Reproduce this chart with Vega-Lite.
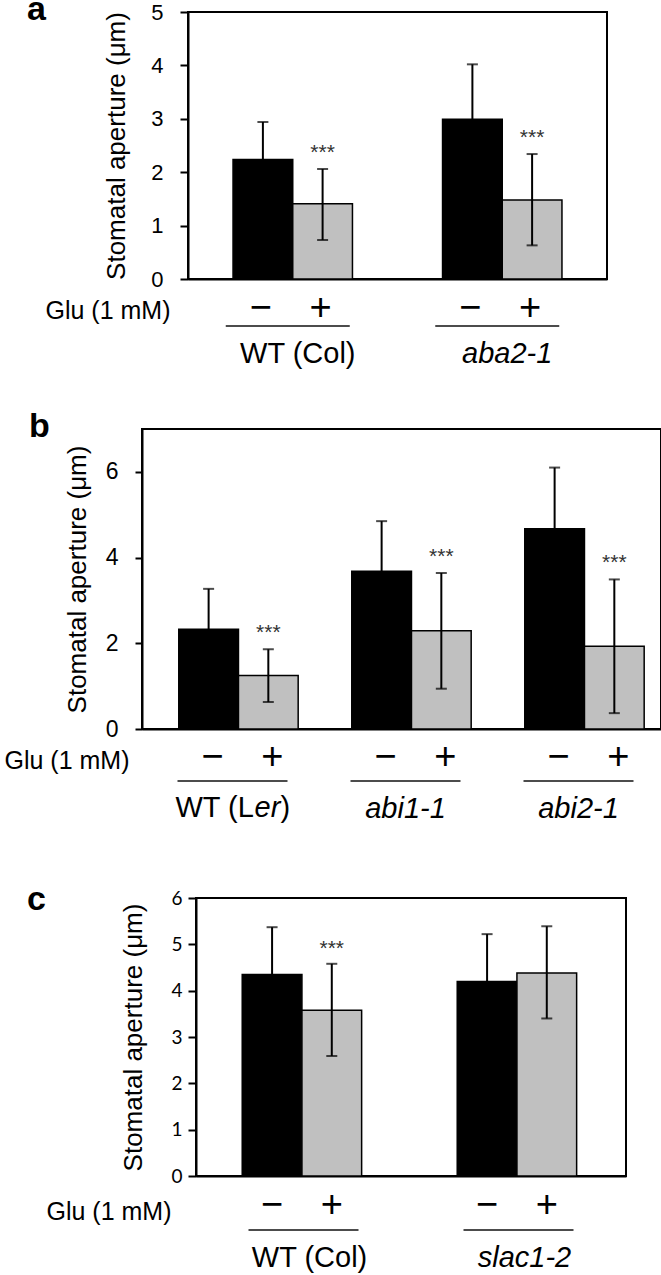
{
  "$schema": "https://vega.github.io/schema/vega-lite/v6.json",
  "background": "white",
  "padding": {"left": 0, "top": -8, "right": 0, "bottom": 0},
  "config": {
    "font": "Liberation Sans",
    "view": {"stroke": "black", "strokeWidth": 2},
    "axis": {"grid": false, "domainColor": "black", "domainWidth": 2, "tickColor": "black", "tickWidth": 2, "labelColor": "black", "titleColor": "black", "titleFontWeight": "normal"},
    "title": {"color": "black"},
    "concat": {"spacing": 0}
  },
  "spacing": 0,
  "vconcat": [
    {
      "spacing": 0,
      "hconcat": [
        {"width": 26, "height": 1, "data": {"values": []}, "mark": "point", "view": {"stroke": null}},
        {
          "width": 419, "height": 267,
          "title": {"text": "a", "anchor": "start", "frame": "group", "dx": -161, "dy": 34, "offset": -19, "baseline": "alphabetic", "fontSize": 34, "fontWeight": "bold"},
          "data": {"values": [
            {"genotype": "WT (Col)", "glu": "−", "mean": 2.24, "lo": 1.54, "hi": 2.94, "star": ""},
            {"genotype": "WT (Col)", "glu": "+", "mean": 1.41, "lo": 0.73, "hi": 2.06, "star": "***"},
            {"genotype": "aba2-1", "glu": "−", "mean": 2.99, "lo": 1.96, "hi": 4.02, "star": ""},
            {"genotype": "aba2-1", "glu": "+", "mean": 1.48, "lo": 0.63, "hi": 2.34, "star": "***"}
          ]},
          "encoding": {
            "x": {"field": "genotype", "type": "nominal", "sort": null, "scale": {"paddingInner": 0.43, "paddingOuter": 0.215},
              "axis": {"title": "Glu (1 mM)", "titleX": -18, "titleY": 31, "titleAlign": "right", "titleBaseline": "middle", "titleAngle": 0, "titleFontSize": 25,
                "labelFontSize": 29, "labelPadding": 74, "labelBaseline": "middle", "labelAngle": 0, "labelOffset": 5, "ticks": false, "tickSize": 0,
                "labelFontStyle": {"condition": {"test": "indexof(datum.value, 'WT') === 0", "value": "normal"}, "value": "italic"}}}
          },
          "layer": [
            {"mark": {"type": "bar", "stroke": "black", "strokeWidth": 1.5},
             "encoding": {
               "xOffset": {"field": "glu", "type": "nominal", "sort": null, "scale": {"paddingInner": 0, "paddingOuter": 0}},
               "y": {"field": "mean", "type": "quantitative", "scale": {"domain": [0, 5], "nice": false},
                 "axis": {"title": "Stomatal aperture (μm)", "titleFontSize": 26, "titleX": -72, "titleBaseline": "middle", "values": [0, 1, 2, 3, 4, 5], "tickSize": 8, "labelPadding": 17, "labelFontSize": 22}},
               "color": {"field": "glu", "type": "nominal", "scale": {"domain": ["−", "+"], "range": ["black", "#c0c0c0"]}, "legend": null}}},
            {"mark": {"type": "rule", "strokeWidth": 2, "color": "black"},
             "encoding": {"xOffset": {"field": "glu", "type": "nominal", "sort": null}, "y": {"field": "lo", "type": "quantitative"}, "y2": {"field": "hi"}}},
            {"mark": {"type": "tick", "orient": "horizontal", "size": 11, "thickness": 2, "color": "black"},
             "encoding": {"xOffset": {"field": "glu", "type": "nominal", "sort": null}, "y": {"field": "hi", "type": "quantitative"}}},
            {"mark": {"type": "tick", "orient": "horizontal", "size": 11, "thickness": 2, "color": "black"},
             "encoding": {"xOffset": {"field": "glu", "type": "nominal", "sort": null}, "y": {"field": "lo", "type": "quantitative"}}},
            {"mark": {"type": "text", "fontSize": 21, "color": "#333333", "baseline": "alphabetic", "dy": -10},
             "encoding": {"xOffset": {"field": "glu", "type": "nominal", "sort": null}, "y": {"field": "hi", "type": "quantitative"}, "text": {"field": "star"}}},
            {"mark": {"type": "text", "fontSize": 38, "color": "black", "baseline": "middle", "dy": 30, "dx": -2},
             "encoding": {"xOffset": {"field": "glu", "type": "nominal", "sort": null}, "y": {"datum": 0}, "text": {"field": "glu"}}},
            {"transform": [{"filter": "datum.glu === '−'"}],
             "mark": {"type": "tick", "orient": "horizontal", "size": 124, "thickness": 2, "color": "black", "yOffset": 47, "xOffset": -5},
             "encoding": {"y": {"datum": 0}}}
          ]
        }
      ]
    },
    {"width": 1, "height": 40, "data": {"values": []}, "mark": "point", "view": {"stroke": null}},
    {
      "spacing": 0,
      "hconcat": [
        {"width": 3, "height": 1, "data": {"values": []}, "mark": "point", "view": {"stroke": null}},
        {
          "width": 519, "height": 300,
          "title": {"text": "b", "anchor": "start", "frame": "group", "dx": -113, "dy": 31, "offset": -11, "baseline": "alphabetic", "fontSize": 34, "fontWeight": "bold"},
          "data": {"values": [
            {"genotype": "WT (Ler)", "glu": "−", "mean": 2.33, "lo": 1.39, "hi": 3.27, "star": ""},
            {"genotype": "WT (Ler)", "glu": "+", "mean": 1.25, "lo": 0.63, "hi": 1.86, "star": "***"},
            {"genotype": "abi1-1", "glu": "−", "mean": 3.68, "lo": 2.51, "hi": 4.85, "star": ""},
            {"genotype": "abi1-1", "glu": "+", "mean": 2.29, "lo": 0.94, "hi": 3.64, "star": "***"},
            {"genotype": "abi2-1", "glu": "−", "mean": 4.67, "lo": 3.24, "hi": 6.1, "star": ""},
            {"genotype": "abi2-1", "glu": "+", "mean": 1.93, "lo": 0.37, "hi": 3.49, "star": "***"}
          ]},
          "encoding": {
            "x": {"field": "genotype", "type": "nominal", "sort": null, "scale": {"paddingInner": 0.425, "paddingOuter": 0.2125},
              "axis": {"title": "Glu (1 mM)", "titleX": -13, "titleY": 31, "titleAlign": "right", "titleBaseline": "middle", "titleAngle": 0, "titleFontSize": 25,
                "labelFontSize": 29, "labelPadding": 79, "labelBaseline": "middle", "labelAngle": 0, "labelOffset": 4, "ticks": false, "tickSize": 0,
                "labelExpr": "datum.value === 'WT (Ler)' ? '' : datum.value",
                "labelFontStyle": {"condition": {"test": "indexof(datum.value, 'WT') === 0", "value": "normal"}, "value": "italic"}}}
          },
          "layer": [
            {"mark": {"type": "bar", "stroke": "black", "strokeWidth": 1.5},
             "encoding": {
               "xOffset": {"field": "glu", "type": "nominal", "sort": null, "scale": {"paddingInner": 0, "paddingOuter": 0}},
               "y": {"field": "mean", "type": "quantitative", "scale": {"domain": [0, 7], "nice": false},
                 "axis": {"title": "Stomatal aperture (μm)", "titleFontSize": 26, "titleX": -65, "titleBaseline": "middle", "values": [0, 2, 4, 6], "tickSize": 7, "labelPadding": 17, "labelFontSize": 23}},
               "color": {"field": "glu", "type": "nominal", "scale": {"domain": ["−", "+"], "range": ["black", "#c0c0c0"]}, "legend": null}}},
            {"mark": {"type": "rule", "strokeWidth": 2, "color": "black"},
             "encoding": {"xOffset": {"field": "glu", "type": "nominal", "sort": null}, "y": {"field": "lo", "type": "quantitative"}, "y2": {"field": "hi"}}},
            {"mark": {"type": "tick", "orient": "horizontal", "size": 11, "thickness": 2, "color": "black"},
             "encoding": {"xOffset": {"field": "glu", "type": "nominal", "sort": null}, "y": {"field": "hi", "type": "quantitative"}}},
            {"mark": {"type": "tick", "orient": "horizontal", "size": 11, "thickness": 2, "color": "black"},
             "encoding": {"xOffset": {"field": "glu", "type": "nominal", "sort": null}, "y": {"field": "lo", "type": "quantitative"}}},
            {"mark": {"type": "text", "fontSize": 21, "color": "#333333", "baseline": "alphabetic", "dy": -10},
             "encoding": {"xOffset": {"field": "glu", "type": "nominal", "sort": null}, "y": {"field": "hi", "type": "quantitative"}, "text": {"field": "star"}}},
            {"mark": {"type": "text", "fontSize": 38, "color": "black", "baseline": "middle", "dy": 29, "dx": 4},
             "encoding": {"xOffset": {"field": "glu", "type": "nominal", "sort": null}, "y": {"datum": 0}, "text": {"field": "glu"}}},
            {"transform": [{"filter": "datum.glu === '−'"}],
             "mark": {"type": "tick", "orient": "horizontal", "size": 110, "thickness": 2, "color": "black", "yOffset": 52, "xOffset": 4},
             "encoding": {"y": {"datum": 0}}},
            {"transform": [{"filter": "datum.genotype === 'WT (Ler)' && datum.glu === '−'"}],
             "mark": {"type": "text", "fontSize": 29, "color": "black", "baseline": "middle", "align": "left", "dy": 79, "dx": -53},
             "encoding": {"y": {"datum": 0}, "text": {"value": "WT (L"}}},
            {"transform": [{"filter": "datum.genotype === 'WT (Ler)' && datum.glu === '−'"}],
             "mark": {"type": "text", "fontSize": 29, "color": "black", "baseline": "middle", "align": "left", "fontStyle": "italic", "dy": 79, "dx": 26},
             "encoding": {"y": {"datum": 0}, "text": {"value": "er"}}},
            {"transform": [{"filter": "datum.genotype === 'WT (Ler)' && datum.glu === '−'"}],
             "mark": {"type": "text", "fontSize": 29, "color": "black", "baseline": "middle", "align": "left", "dy": 79, "dx": 52},
             "encoding": {"y": {"datum": 0}, "text": {"value": ")"}}}
          ]
        }
      ]
    },
    {"width": 1, "height": 58, "data": {"values": []}, "mark": "point", "view": {"stroke": null}},
    {
      "spacing": 0,
      "hconcat": [
        {"width": 26, "height": 1, "data": {"values": []}, "mark": "point", "view": {"stroke": null}},
        {
          "width": 430, "height": 278,
          "title": {"text": "c", "anchor": "start", "frame": "group", "dx": -169, "dy": 38, "offset": -17, "baseline": "alphabetic", "fontSize": 34, "fontWeight": "bold"},
          "data": {"values": [
            {"genotype": "WT (Col)", "glu": "−", "mean": 4.35, "lo": 3.33, "hi": 5.37, "star": ""},
            {"genotype": "WT (Col)", "glu": "+", "mean": 3.58, "lo": 2.59, "hi": 4.58, "star": "***"},
            {"genotype": "slac1-2", "glu": "−", "mean": 4.2, "lo": 3.18, "hi": 5.22, "star": ""},
            {"genotype": "slac1-2", "glu": "+", "mean": 4.38, "lo": 3.4, "hi": 5.39, "star": ""}
          ]},
          "encoding": {
            "x": {"field": "genotype", "type": "nominal", "sort": null, "scale": {"paddingInner": 0.43, "paddingOuter": 0.215},
              "axis": {"title": "Glu (1 mM)", "titleX": -25, "titleY": 35, "titleAlign": "right", "titleBaseline": "middle", "titleAngle": 0, "titleFontSize": 25,
                "labelFontSize": 29, "labelPadding": 81, "labelBaseline": "middle", "labelAngle": 0, "labelOffset": 6, "ticks": false, "tickSize": 0,
                "labelFontStyle": {"condition": {"test": "indexof(datum.value, 'WT') === 0", "value": "normal"}, "value": "italic"}}}
          },
          "layer": [
            {"mark": {"type": "bar", "stroke": "black", "strokeWidth": 1.5},
             "encoding": {
               "xOffset": {"field": "glu", "type": "nominal", "sort": null, "scale": {"paddingInner": 0, "paddingOuter": 0}},
               "y": {"field": "mean", "type": "quantitative", "scale": {"domain": [0, 6], "nice": false},
                 "axis": {"title": "Stomatal aperture (μm)", "titleFontSize": 26, "titleX": -63, "titleBaseline": "middle", "values": [0, 1, 2, 3, 4, 5, 6], "tickSize": 8, "labelPadding": 6, "labelFontSize": 19, "labelFont": "Lato"}},
               "color": {"field": "glu", "type": "nominal", "scale": {"domain": ["−", "+"], "range": ["black", "#c0c0c0"]}, "legend": null}}},
            {"mark": {"type": "rule", "strokeWidth": 2, "color": "black"},
             "encoding": {"xOffset": {"field": "glu", "type": "nominal", "sort": null}, "y": {"field": "lo", "type": "quantitative"}, "y2": {"field": "hi"}}},
            {"mark": {"type": "tick", "orient": "horizontal", "size": 11, "thickness": 2, "color": "black"},
             "encoding": {"xOffset": {"field": "glu", "type": "nominal", "sort": null}, "y": {"field": "hi", "type": "quantitative"}}},
            {"mark": {"type": "tick", "orient": "horizontal", "size": 11, "thickness": 2, "color": "black"},
             "encoding": {"xOffset": {"field": "glu", "type": "nominal", "sort": null}, "y": {"field": "lo", "type": "quantitative"}}},
            {"mark": {"type": "text", "fontSize": 21, "color": "#333333", "baseline": "alphabetic", "dy": -9},
             "encoding": {"xOffset": {"field": "glu", "type": "nominal", "sort": null}, "y": {"field": "hi", "type": "quantitative"}, "text": {"field": "star"}}},
            {"mark": {"type": "text", "fontSize": 38, "color": "black", "baseline": "middle", "dy": 30},
             "encoding": {"xOffset": {"field": "glu", "type": "nominal", "sort": null}, "y": {"datum": 0}, "text": {"field": "glu"}}},
            {"transform": [{"filter": "datum.glu === '−'"}],
             "mark": {"type": "tick", "orient": "horizontal", "size": 110, "thickness": 2, "color": "black", "yOffset": 54, "xOffset": 0},
             "encoding": {"y": {"datum": 0}}}
          ]
        }
      ]
    }
  ]
}
